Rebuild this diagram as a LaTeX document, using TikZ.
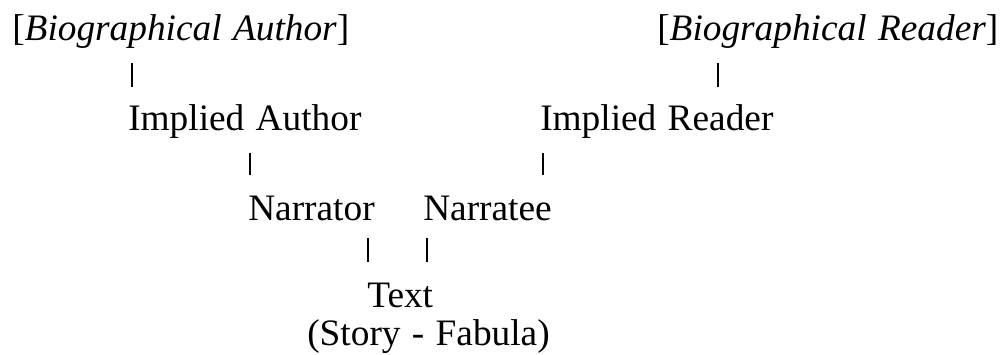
\documentclass[tikz,border=0pt]{standalone}
\usepackage{fontspec}
\setmainfont{Liberation Serif}
\newcommand{\lblfont}{\fontsize{28}{33}\selectfont\spaceskip=8.5pt plus 3pt\relax}
\begin{document}
\begin{tikzpicture}[x=0.75pt,y=-0.75pt,
  lbl/.style={anchor=base west,inner sep=0pt,font=\lblfont},
  bar/.style={line width=2.2pt}]
\useasboundingbox (0,0) rectangle (1004,354);
\node[lbl] (ba) at (12,40) {[\textit{Biographical Author}]};
\node[lbl] (br) at (657,40) {[\textit{Biographical Reader}]};
\node[lbl] (ia) at (128,130) {Implied Author};
\node[lbl] (ir) at (540,130) {Implied Reader};
\node[lbl] (nr) at (248,220) {Narrator};
\node[lbl] (ne) at (423,220) {Narratee};
\node[lbl] (tx) at (367,307) {Text};
\node[lbl] (sf) at (307,345) {(Story - Fabula)};
\coordinate (b1t) at (132,63);  \coordinate (b1b) at (132,87);
\coordinate (b2t) at (250,153); \coordinate (b2b) at (250,175);
\coordinate (b3t) at (718,63);  \coordinate (b3b) at (718,87);
\coordinate (b4t) at (543,153); \coordinate (b4b) at (543,175);
\coordinate (b5t) at (368,238); \coordinate (b5b) at (368,262);
\coordinate (b6t) at (427,238); \coordinate (b6b) at (427,262);
\draw[bar] (b1t) -- (b1b);
\draw[bar] (b2t) -- (b2b);
\draw[bar] (b3t) -- (b3b);
\draw[bar] (b4t) -- (b4b);
\draw[bar] (b5t) -- (b5b);
\draw[bar] (b6t) -- (b6b);
\end{tikzpicture}
\end{document}
